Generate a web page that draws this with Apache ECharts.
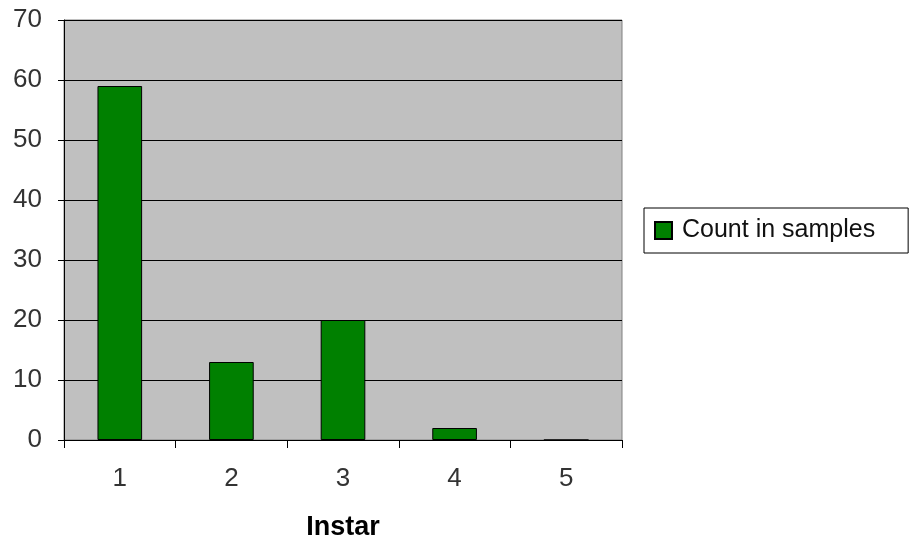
<!DOCTYPE html>
<html><head><meta charset="utf-8">
<script src="https://cdn.jsdelivr.net/npm/echarts@6/dist/echarts.min.js"></script>
<style>html,body{margin:0;padding:0;background:#fff}#c{width:910px;height:541px}</style>
</head><body><div id="c"></div>
<script>
var categories = ['1','2','3','4','5'];
var counts = [59, 13, 20, 2, 0];
var seriesName = 'Count in samples';
var xTitle = 'Instar';

var chart = echarts.init(document.getElementById('c'));
chart.setOption({
  animation: false,
  textStyle: {fontFamily: 'Liberation Sans, Arial, sans-serif'},
  grid: {left: 64, right: 288, top: 20, bottom: 101, containLabel: false, outerBoundsMode: 'none',
         show: true, backgroundColor: '#c0c0c0', borderColor: '#808080', borderWidth: 1},
  legend: {
    data: [{name: seriesName, icon: 'rect'}], left: 644, top: 208, orient: 'vertical',
    borderColor: '#000', borderWidth: 1, padding: [10, 33, 10, 10],
    itemWidth: 17, itemHeight: 17, itemGap: 0,
    textStyle: {fontSize: 25, color: '#111', padding: [0, 0, 0, 5], fontFamily: 'Liberation Sans, Arial, sans-serif'}
  },
  xAxis: {
    type: 'category', data: categories,
    name: xTitle, nameLocation: 'middle', nameGap: 74,
    nameTextStyle: {fontSize: 27, fontWeight: 'bold', color: '#000', verticalAlign: 'top'},
    axisLine: {lineStyle: {color: '#000', width: 1}},
    axisTick: {show: true, length: 8, lineStyle: {color: '#000'}},
    axisLabel: {fontSize: 26, color: '#333', margin: 26}
  },
  yAxis: {
    type: 'value', min: 0, max: 70, interval: 10,
    axisLine: {show: true, lineStyle: {color: '#000'}},
    axisTick: {show: true, length: 6, lineStyle: {color: '#000'}},
    axisLabel: {fontSize: 26, color: '#333', margin: 22},
    splitLine: {lineStyle: {color: '#000', width: 1}}
  },
  series: [{
    type: 'bar', name: seriesName, data: counts, barWidth: '40%',
    itemStyle: {color: '#008000', borderColor: '#000', borderWidth: 1}
  }]
});
</script></body></html>
